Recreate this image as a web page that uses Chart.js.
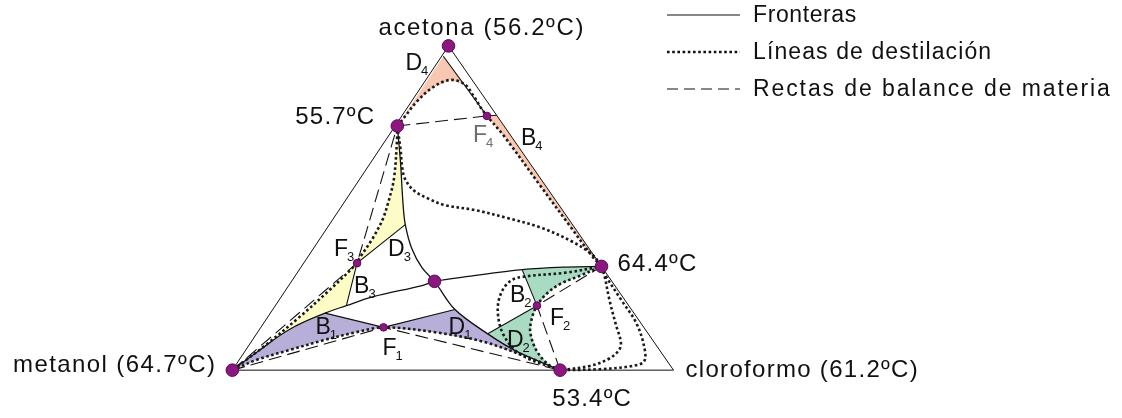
<!DOCTYPE html>
<html lang="es">
<head>
<meta charset="utf-8">
<title>Acetona - metanol - cloroformo</title>
<script src="https://cdn.jsdelivr.net/npm/chart.js@4.4.1/dist/chart.umd.min.js"></script>
<style>
  html, body { margin: 0; padding: 0; background: #fff; }
  canvas { display: block; }
</style>
</head>
<body>
<canvas id="diagram" width="1122" height="418"></canvas>
<script>
// composiciones como [x acetona, x cloroformo]; el metanol es el resto
const ACETONA = [1, 0];
const METANOL = [0, 0];
const CLOROFORMO = [0, 1];

// azeotropos y punto silla
const AZ_ACE_MET = [0.753, 0.005];   // 55.7 ºC
const AZ_MET_CLO = [0, 0.743];       // 53.4 ºC
const AZ_ACE_CLO = [0.32, 0.68];     // 64.4 ºC
const SILLA = [0.274, 0.324];

// alimentaciones
const F1 = [0.132, 0.278];
const F2 = [0.199, 0.593];
const F3 = [0.330, 0.121];
const F4 = [0.784, 0.193];

// extremos de los segmentos B - F - D
const P1 = [0.176, 0.124];
const P2 = [0.187, 0.413];
const Q3 = [0.449, 0.172];
const Q4 = [0.199, 0.161];
const R1 = [0.310, 0.505];
const S1 = [0.112, 0.524];
const D4 = [0.968, 0.004];
const E4 = [0.786, 0.214];

// fronteras de destilacion
const fronteraAzeo = [AZ_ACE_MET, [0.643, 0.066], [0.514, 0.135], Q3, [0.375, 0.223], [0.316, 0.275],
  SILLA, P2, S1, [0.057, 0.618], AZ_MET_CLO];
const fronteraMet = [METANOL, [0.057, 0.029], [0.127, 0.069], P1, Q4, [0.226, 0.207], [0.261, 0.302],
  SILLA, [0.289, 0.393], R1, [0.318, 0.602], AZ_ACE_CLO];

// lineas de destilacion
const lineaA = [AZ_ACE_MET, [0.682, 0.047], [0.623, 0.080], [0.588, 0.104], [0.554, 0.140], [0.529, 0.185],
  [0.509, 0.232], [0.494, 0.307], [0.469, 0.394], [0.440, 0.483], [0.395, 0.579], [0.355, 0.643], AZ_ACE_CLO];
const lineaB = [AZ_ACE_MET, [0.722, 0.020], [0.593, 0.076], [0.524, 0.098], [0.464, 0.113], [0.405, 0.119],
  [0.345, 0.119], F3, [0.243, 0.098], [0.159, 0.070], [0.076, 0.037], METANOL];
const lineaC = [AZ_ACE_MET, [0.783, 0.008], [0.827, 0.012], [0.872, 0.027], [0.895, 0.055], [0.882, 0.094],
  [0.845, 0.133], [0.807, 0.169], F4, [0.722, 0.262], [0.574, 0.414], [0.444, 0.548], [0.350, 0.645], AZ_ACE_CLO];
const lineaD = [METANOL, [0.033, 0.041], [0.063, 0.101], [0.092, 0.161], [0.117, 0.223], F1,
  [0.117, 0.402], [0.087, 0.528], [0.033, 0.667], AZ_MET_CLO];
const lineaE = [AZ_MET_CLO, [0.013, 0.714], [0.057, 0.663], [0.117, 0.618], [0.162, 0.600], F2,
  [0.236, 0.597], [0.266, 0.613], [0.291, 0.645], AZ_ACE_CLO];
const lineaF = [AZ_MET_CLO, [0.048, 0.630], [0.107, 0.563], [0.177, 0.515], [0.236, 0.493], [0.276, 0.496],
  [0.289, 0.523], [0.301, 0.610], AZ_ACE_CLO];
const lineaG = [AZ_ACE_CLO, [0.291, 0.701], [0.216, 0.749], [0.137, 0.803], [0.087, 0.838], [0.063, 0.846],
  [0.036, 0.837], [0.013, 0.804], AZ_MET_CLO];
const lineaH = [AZ_ACE_CLO, [0.298, 0.697], [0.216, 0.776], [0.147, 0.843], [0.077, 0.895], [0.028, 0.920],
  [0.013, 0.900], [0.003, 0.832], AZ_MET_CLO];

// rectas de balance de materia
const balance1 = [METANOL, F1, AZ_MET_CLO];
const balance2 = [AZ_MET_CLO, F2, AZ_ACE_CLO];
const balance3 = [METANOL, F3, AZ_ACE_MET];
const balance4 = [AZ_ACE_MET, F4];

// segmentos que cierran las zonas de producto
const segF1 = [P1, F1, P2];
const segF2 = [R1, F2, S1];
const segF3 = [Q3, F3, Q4];
const segF4 = [D4, F4, E4];

const nodos = [ACETONA, METANOL, AZ_ACE_MET, AZ_MET_CLO, AZ_ACE_CLO, SILLA];
const alimentaciones = [F1, F2, F3, F4];
const triangulo = [METANOL, CLOROFORMO, ACETONA, METANOL];

// zonas coloreadas, armadas con trozos de las curvas
const at = (arr, p) => arr.indexOf(p);
const zonaD4 = [D4, ...lineaC.slice(0, at(lineaC, F4) + 1).reverse()];
const zonaB4 = [E4, AZ_ACE_CLO, ...lineaC.slice(at(lineaC, F4)).reverse()];
const zonaB1 = [...fronteraMet.slice(0, at(fronteraMet, P1) + 1), F1, ...lineaD.slice(0, at(lineaD, F1)).reverse()];
const zonaD1 = [F1, ...fronteraAzeo.slice(at(fronteraAzeo, P2)), ...lineaD.slice(at(lineaD, F1) + 1).reverse()];
const zonaD3 = [F3, ...fronteraAzeo.slice(0, at(fronteraAzeo, Q3) + 1).reverse(), ...lineaB.slice(1, at(lineaB, F3))];
const zonaB3 = [F3, ...fronteraMet.slice(0, at(fronteraMet, Q4) + 1).reverse(), ...lineaB.slice(at(lineaB, F3) + 1).reverse()];
const zonaB2 = [F2, ...fronteraMet.slice(at(fronteraMet, R1)), ...lineaE.slice(at(lineaE, F2) + 1).reverse()];
const zonaD2 = [F2, ...fronteraAzeo.slice(at(fronteraAzeo, S1)), ...lineaE.slice(0, at(lineaE, F2))];

// triangulo algo achatado: el vertice de acetona cae en x = 0.49
const APEX_X = 0.49;
const toXY = ([a, c]) => ({ x: c + APEX_X * a, y: a });
const pts = arr => arr.map(toXY);

const NARANJA = '#f8c8b3';
const AMARILLO = '#fefcc6';
const LILA = '#b8afd9';
const VERDE = '#a8dbc1';
const PURPURA = '#8b1880';

const zona = (data, color) => ({
  data: pts(data), fill: 'shape', backgroundColor: color, borderWidth: 0,
  pointRadius: 0, tension: 0, order: 50
});
const frontera = data => ({
  data: pts(data), borderColor: '#111', borderWidth: 1.3, pointRadius: 0, tension: 0.35, fill: false, order: 30
});
const recta = (data, w) => ({
  data: pts(data), borderColor: '#111', borderWidth: w || 1.1, pointRadius: 0, tension: 0, fill: false, order: 30
});
const discontinua = data => ({
  data: pts(data), borderColor: '#111', borderWidth: 1.1, borderDash: [13, 6], pointRadius: 0,
  tension: 0, fill: false, order: 25
});
const punteada = data => ({
  data: pts(data), borderColor: '#1a1a1a', borderWidth: 2.6, borderDash: [2.6, 2.6], borderCapStyle: 'butt',
  pointRadius: 0, tension: 0.35, fill: false, order: 20
});

const datasets = [
  zona(zonaD4, NARANJA), zona(zonaB4, NARANJA),
  zona(zonaD3, AMARILLO), zona(zonaB3, AMARILLO),
  zona(zonaB1, LILA), zona(zonaD1, LILA),
  zona(zonaB2, VERDE), zona(zonaD2, VERDE),
  recta(triangulo, 1),
  frontera(fronteraAzeo), frontera(fronteraMet),
  recta(segF1), recta(segF2), recta(segF3), recta(segF4),
  discontinua(balance1), discontinua(balance2), discontinua(balance3), discontinua(balance4),
  punteada(lineaA), punteada(lineaB), punteada(lineaC), punteada(lineaD),
  punteada(lineaE), punteada(lineaF), punteada(lineaG), punteada(lineaH),
  { data: pts(nodos), showLine: false, pointRadius: 6.3, pointBackgroundColor: PURPURA,
    pointBorderColor: '#5a0c52', pointBorderWidth: 1, order: 2 },
  { data: pts(alimentaciones), showLine: false, pointRadius: 3.8, pointBackgroundColor: PURPURA,
    pointBorderColor: '#5a0c52', pointBorderWidth: 1, order: 1 }
];

// textos: desplazamientos en pixeles respecto al punto de referencia
const etiquetas = [
  { text: 'acetona (56.2ºC)', at: ACETONA, dx: -70, dy: -11, sp: 1.6 },
  { text: '55.7ºC', at: AZ_ACE_MET, dx: -22, dy: -2, align: 'right', sp: 1.2 },
  { text: '64.4ºC', at: AZ_ACE_CLO, dx: 16, dy: 5, sp: 1.2 },
  { text: '53.4ºC', at: AZ_MET_CLO, dx: -8, dy: 36, sp: 1.2 },
  { text: 'cloroformo (61.2ºC)', at: CLOROFORMO, dx: 12, dy: 7, sp: 1.3 },
  { text: 'metanol (64.7ºC)', at: METANOL, dx: -16, dy: 2, align: 'right', sp: 1.4 }
];
const subindices = [
  { l: 'D', s: '4', at: ACETONA, dx: -43, dy: 24 },
  { l: 'F', s: '4', at: F4, dx: -14, dy: 26, color: '#6e6e6e' },
  { l: 'B', s: '4', at: F4, dx: 34, dy: 29 },
  { l: 'F', s: '3', at: F3, dx: -23, dy: -7 },
  { l: 'D', s: '3', at: F3, dx: 31, dy: -7 },
  { l: 'B', s: '3', at: F3, dx: -3, dy: 30 },
  { l: 'F', s: '1', at: F1, dx: -1, dy: 28 },
  { l: 'B', s: '1', at: F1, dx: -68, dy: 7 },
  { l: 'D', s: '1', at: F1, dx: 65, dy: 7 },
  { l: 'F', s: '2', at: F2, dx: 13, dy: 19 },
  { l: 'B', s: '2', at: F2, dx: -27, dy: -4 },
  { l: 'D', s: '2', at: F2, dx: -30, dy: 41 }
];
const leyenda = [
  { text: 'Fronteras', dash: [], width: 1.1, spacing: 0.6 },
  { text: 'Líneas de destilación', dash: [2.6, 2.6], width: 2.6, spacing: 1.1 },
  { text: 'Rectas de balance de materia', dash: [11, 6], width: 1.1, spacing: 1.9 }
];

const textos = {
  id: 'textos',
  afterDraw(chart) {
    const { ctx, scales: { x, y } } = chart;
    const px = p => { const q = toXY(p); return [x.getPixelForValue(q.x), y.getPixelForValue(q.y)]; };
    ctx.save();
    ctx.textBaseline = 'alphabetic';
    ctx.fillStyle = '#111';
    ctx.font = '24px "Liberation Sans", Arial, sans-serif';
    etiquetas.forEach(e => {
      const [bx, by] = px(e.at);
      ctx.letterSpacing = e.sp + 'px';
      ctx.textAlign = e.align || 'left';
      ctx.fillText(e.text, bx + e.dx, by + e.dy);
    });
    ctx.textAlign = 'left';
    ctx.letterSpacing = '0px';
    subindices.forEach(e => {
      const [bx, by] = px(e.at);
      ctx.fillStyle = e.color || '#111';
      ctx.font = '23px "Liberation Sans", Arial, sans-serif';
      ctx.fillText(e.l, bx + e.dx, by + e.dy);
      const w = ctx.measureText(e.l).width;
      ctx.font = '13px "Liberation Sans", Arial, sans-serif';
      ctx.fillText(e.s, bx + e.dx + w - 1, by + e.dy + 5);
    });
    // leyenda
    ctx.fillStyle = '#111';
    ctx.strokeStyle = '#111';
    ctx.font = '23px "Liberation Sans", Arial, sans-serif';
    ctx.textBaseline = 'middle';
    leyenda.forEach((it, i) => {
      const ly = 15 + i * 37;
      ctx.lineWidth = it.width;
      ctx.setLineDash(it.dash);
      ctx.beginPath();
      ctx.moveTo(667, ly);
      ctx.lineTo(740, ly);
      ctx.stroke();
      ctx.letterSpacing = it.spacing + 'px';
      ctx.fillText(it.text, 753, ly + 1);
    });
    ctx.restore();
  }
};

new Chart(document.getElementById('diagram'), {
  type: 'line',
  data: { datasets },
  options: {
    responsive: false,
    devicePixelRatio: 1,
    animation: false,
    layout: { padding: 0 },
    scales: {
      x: { type: 'linear', min: -228 / 447, max: 894 / 447, display: false },
      y: { type: 'linear', min: -42 / 336, max: 376 / 336, display: false }
    },
    plugins: { legend: { display: false }, tooltip: { enabled: false } }
  },
  plugins: [textos]
});
</script>
</body>
</html>
